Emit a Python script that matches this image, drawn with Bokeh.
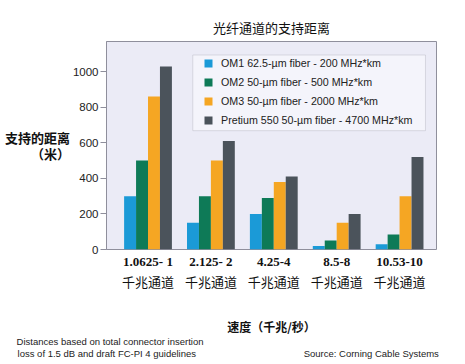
from bokeh.plotting import figure
from bokeh.models import ColumnDataSource, Range1d, FixedTicker, BoxAnnotation, LinearAxis
from bokeh.transform import dodge
from bokeh.embed import file_html
from bokeh.resources import INLINE

# ---- data ----
rates = ["1.0625- 1", "2.125- 2", "4.25-4", "8.5-8", "10.53-10"]
unit_label = "千兆通道"
om1 = [300, 150, 200, 20, 30]
om2 = [500, 300, 290, 50, 85]
om3 = [860, 500, 380, 150, 300]
pretium = [1030, 610, 410, 200, 520]
series_names = [
    "OM1 62.5-µm fiber - 200 MHz*km",
    "OM2 50-µm fiber - 500 MHz*km",
    "OM3 50-µm fiber - 2000 MHz*km",
    "Pretium 550 50-µm fiber - 4700 MHz*km",
]
series_colors = ["#1b9ad7", "#0e7a57", "#f5a623", "#4b535b"]
y_ticks = [0, 200, 400, 600, 800, 1000]
title_text = "光纤通道的支持距离"
y_title = "支持的距离\n（米）"
x_title = "速度（千兆/秒）"
note_lines = ["Distances based on total connector insertion",
              "loss of 1.5 dB and draft FC-PI 4 guidelines"]
source_text = "Source: Corning Cable Systems"

x_idx = list(range(len(rates)))
src = ColumnDataSource(dict(x=x_idx, om1=om1, om2=om2, om3=om3, pretium=pretium))

x0 = -0.66
x1 = x0 + 5.247
p = figure(frame_width=330, frame_height=208, output_backend="svg", toolbar_location=None,
           x_range=Range1d(x0, x1), y_range=Range1d(0, 1170),
           min_border_left=106, min_border_right=24,
           min_border_top=41, min_border_bottom=0,
           title=title_text)
p.title.align = "center"
p.title.text_font = "Noto Sans CJK SC"
p.title.text_font_style = "normal"
p.title.text_font_size = "13px"
p.title.text_color = "#111111"
p.title.standoff = 9

p.background_fill_color = "#ebebf6"
p.border_fill_color = "white"
p.outline_line_color = "#8f8f9c"
p.outline_line_width = 1
p.grid.visible = False

# legend box (layout position in data units)
box = BoxAnnotation(left=0.712, right=4.412, bottom=668.5, top=1094,
                    fill_color="#f4f4fb", fill_alpha=1, line_color="#9a9aa8",
                    line_width=1, level="underlay")
p.add_layout(box)

bw = 0.19
offsets = [-1.5 * bw, -0.5 * bw, 0.5 * bw, 1.5 * bw]
for key, off, col, name in zip(["om1", "om2", "om3", "pretium"], offsets, series_colors, series_names):
    p.vbar(x=dodge("x", off), top=key, width=bw, bottom=0, source=src,
           fill_color=col, line_color=None, legend_label=name)

lg = p.legend[0]
lg.location = (97, 122)
lg.padding = 0
lg.margin = 0
lg.spacing = 5
lg.label_height = 14
lg.glyph_height = 10
lg.glyph_width = 10
lg.label_standoff = 8
lg.border_line_alpha = 0
lg.background_fill_alpha = 0
lg.label_text_font = "Liberation Sans"
lg.label_text_font_size = "10.7px"
lg.label_text_color = "#222222"

ax = p.yaxis[0]
ax.ticker = FixedTicker(ticks=y_ticks)
ax.minor_tick_line_color = None
ax.major_tick_out = 6
ax.major_tick_in = 0
ax.major_tick_line_color = "#8f8f9c"
ax.axis_line_color = "#8f8f9c"
ax.major_label_standoff = 2
ax.major_label_text_font = "Liberation Sans"
ax.major_label_text_font_size = "11.5px"
ax.major_label_text_color = "#222222"
ax.axis_label = y_title
ax.axis_label_orientation = "horizontal"
ax.axis_label_standoff = 0
ax.axis_label_text_font = "Noto Sans CJK SC"
ax.axis_label_text_font_style = "bold"
ax.axis_label_text_font_size = "13px"
ax.axis_label_text_line_height = 0.85
ax.axis_label_text_color = "#111111"


def plain_axis(ticks, labels, standoff, font, size, style="normal"):
    a = LinearAxis(ticker=FixedTicker(ticks=ticks),
                   major_label_overrides={t: l for t, l in zip(ticks, labels)})
    a.axis_line_color = None
    a.major_tick_line_color = None
    a.minor_tick_line_color = None
    a.major_tick_out = 0
    a.major_tick_in = 0
    a.major_label_standoff = standoff
    a.major_label_text_font = font
    a.major_label_text_font_style = style
    a.major_label_text_font_size = size
    a.major_label_text_color = "#111111"
    return a


xa = p.xaxis[0]
xa.ticker = FixedTicker(ticks=x_idx)
xa.major_label_overrides = {i: r for i, r in zip(x_idx, rates)}
xa.axis_line_color = None
xa.major_tick_line_color = None
xa.minor_tick_line_color = None
xa.major_tick_out = 0
xa.major_label_standoff = 4
xa.major_label_text_font = "Liberation Serif"
xa.major_label_text_font_style = "bold"
xa.major_label_text_font_size = "13px"
xa.major_label_text_color = "#111111"

xa2 = plain_axis(x_idx, [unit_label] * len(x_idx), 0, "Noto Sans CJK SC", "13px")
xa2.axis_label = x_title
xa2.axis_label_standoff = 24
xa2.axis_label_text_font = "Noto Sans CJK SC"
xa2.axis_label_text_font_style = "bold"
xa2.axis_label_text_font_size = "12px"
xa2.axis_label_text_color = "#111111"
p.add_layout(xa2, "below")

# footnotes (positioned in x-data units along the frame)
note1_at = -0.604
note2_at = -0.655
source_at = 3.55
n1 = plain_axis([note1_at], [note_lines[0]], -2, "Liberation Sans", "9.5px")
n2 = plain_axis([note2_at, source_at], [note_lines[1], source_text], -2, "Liberation Sans", "9.5px")
n1.major_label_text_color = "#222222"
n2.major_label_text_color = "#222222"
p.add_layout(n1, "below")
p.add_layout(n2, "below")

open("out.html", "w").write(file_html(p, INLINE))
